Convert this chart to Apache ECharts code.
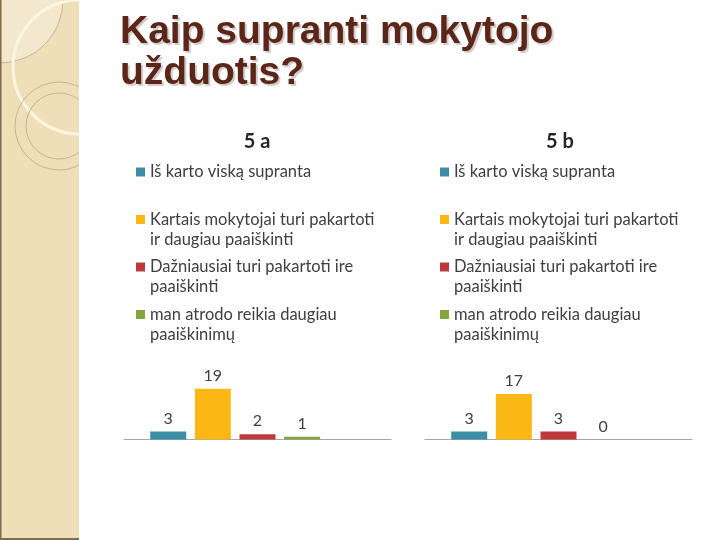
<!DOCTYPE html>
<html>
<head>
<meta charset="utf-8">
<script src="https://cdn.jsdelivr.net/npm/echarts@6/dist/echarts.min.js"></script>
<style>
	html, body { margin: 0; padding: 0; background: #fff; }
	#main { width: 720px; height: 540px; }
</style>
</head>
<body>
<div id="main"></div>
<script>
// answers, same order in both classes
const categories = [
	"Iš karto viską supranta",
	"Kartais mokytojai turi pakartoti ir daugiau paaiškinti",
	"Dažniausiai turi pakartoti ire paaiškinti",
	"man atrodo reikia daugiau paaiškinimų",
];
// how the legend wraps each answer
const legendLabels = [
	"Iš karto viską supranta\n ",
	"Kartais mokytojai turi pakartoti\nir daugiau paaiškinti",
	"Dažniausiai turi pakartoti ire\npaaiškinti",
	"man atrodo reikia daugiau\npaaiškinimų",
];
const classNames = ["5 a", "5 b"];
const values5a = [3, 19, 2, 1];
const values5b = [3, 17, 3, 0];
const colors = ["#3c8da6", "#fbb714", "#be3a3a", "#84a442"];

const chart = echarts.init(document.getElementById("main"), null, { width: 720, height: 540 });

const font = "Lato, 'Open Sans', sans-serif";
const gridLeft = [124, 425];
const titleCenter = [257, 560];
const legendLeft = [136, 440];

const makeSeries = (values, idx) => {
	const list = categories.map((name, i) => ({
		name       : name,
		type       : "bar",
		xAxisIndex : idx,
		yAxisIndex : idx,
		data       : [values[i]],
		barWidth   : 36,
		barGap     : "24%",
		itemStyle  : { color: colors[i] },
		label      : {
			show       : true,
			position   : "top",
			distance   : 5,
			fontSize   : 16,
			fontFamily : font,
			color      : "#404040",
		},
	}));
	// empty fifth slot, the original chart reserves it
	list.push({
		name       : "",
		type       : "bar",
		xAxisIndex : idx,
		yAxisIndex : idx,
		data       : ["-"],
		barWidth   : 36,
		barGap     : "24%",
	});
	return list;
};

const option = {
	animation : false,
	graphic   : {
		elements: [
			{ type: "rect", z: -5, shape: { x: 0, y: 0, width: 79, height: 540 }, style: { fill: "#efdfb8" } },
			{ type: "circle", z: -5, shape: { cx: 0, cy: 0, r: 63 }, style: { fill: "#f3e8cd", stroke: "#cbb690", lineWidth: 1 } },
			{ type: "circle", z: -5, shape: { cx: 80, cy: 67, r: 67 }, style: { fill: "none", stroke: "#fcf5e1", lineWidth: 3 } },
			{ type: "circle", z: -5, shape: { cx: 59, cy: 126, r: 44 }, style: { fill: "none", stroke: "#c9b48c", lineWidth: 1 } },
			{ type: "circle", z: -5, shape: { cx: 59, cy: 126, r: 33 }, style: { fill: "none", stroke: "#c9b48c", lineWidth: 1 } },
			{ type: "rect", z: -4, shape: { x: 79, y: 0, width: 641, height: 540 }, style: { fill: "#ffffff" } },
			{ type: "rect", z: -4, shape: { x: 0, y: 0, width: 1.5, height: 540 }, style: { fill: "#7d6b4b" } },
			{ type: "rect", z: -4, shape: { x: 0, y: 538, width: 79, height: 2 }, style: { fill: "#7d6b4b" } },
		],
	},
	title: [
		{
			text      : "Kaip supranti mokytojo\nužduotis?",
			left      : 120,
			top       : 12,
			padding   : 0,
			textStyle : {
				fontFamily         : "'Liberation Sans', Arial, sans-serif",
				fontSize           : 39,
				fontWeight         : "bold",
				lineHeight         : 41,
				color              : "#5b2517",
				textShadowColor    : "rgba(120,100,100,0.35)",
				textShadowOffsetX  : 2,
				textShadowOffsetY  : 2,
				textShadowBlur     : 1,
			},
		},
		...classNames.map((t, i) => ({
			text      : t,
			left      : titleCenter[i],
			top       : 131,
			padding   : 0,
			textAlign : "center",
			textStyle : {
				fontFamily : font,
				fontSize   : 20,
				fontWeight : "bold",
				lineHeight : 22,
				color      : "#262626",
			},
		})),
	],
	legend: [0, 1].map(i => ({
		data      : categories,
		orient    : "vertical",
		left      : legendLeft[i],
		top       : 142,
		padding   : 0,
		icon      : "rect",
		itemWidth : 9,
		itemHeight: 9,
		itemGap   : -12.5,
		// blank first line so the icon sits beside the first text line
		formatter : name => " \n" + legendLabels[categories.indexOf(name)],
		textStyle : {
			fontFamily : font,
			fontSize   : 16.5,
			lineHeight : 20,
			color      : "#404040",
		},
	})),
	grid: [0, 1].map(i => ({
		left   : gridLeft[i],
		width  : 267,
		top    : 386,
		height : 53.5,
	})),
	xAxis: [0, 1].map(i => ({
		type      : "category",
		gridIndex : i,
		data      : [""],
		axisLine  : { lineStyle: { color: "#a6a6a6", width: 1 } },
		axisTick  : { show: false },
		axisLabel : { show: false },
	})),
	yAxis: [0, 1].map(i => ({
		type      : "value",
		gridIndex : i,
		min       : 0,
		max       : 20,
		show      : false,
		splitLine : { show: false },
	})),
	series: [...makeSeries(values5a, 0), ...makeSeries(values5b, 1)],
};

chart.setOption(option);
</script>
</body>
</html>
